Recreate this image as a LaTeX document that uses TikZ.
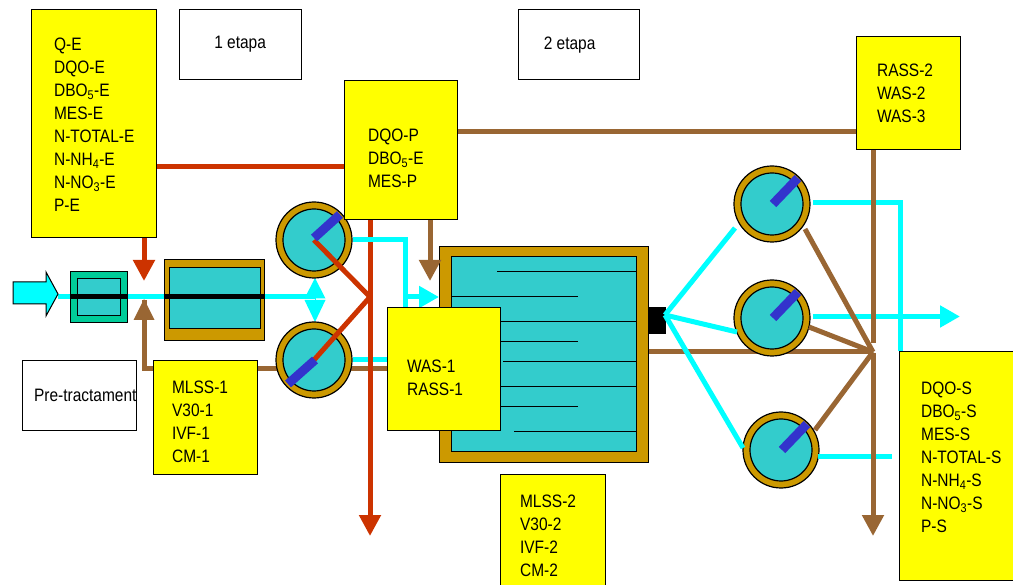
\documentclass[tikz,border=0pt]{standalone}
\usepackage{fontspec}
\setmainfont[FakeStretch=0.86]{Liberation Sans}
\usetikzlibrary{arrows.meta}
\definecolor{gold}{HTML}{CC9900}
\definecolor{teal1}{HTML}{33CCCC}
\definecolor{brn}{HTML}{996633}
\definecolor{rd}{HTML}{CC3300}
\definecolor{cy}{HTML}{00FFFF}
\definecolor{bl}{HTML}{3333CC}
\definecolor{grn}{HTML}{00CC99}
\definecolor{yel}{HTML}{FFFF00}
\tikzset{
  box/.style={draw=black,line width=1.2pt,anchor=north west,inner ysep=0pt,align=left,
    font=\fontsize{18}{23}\selectfont},
  ybox/.style={box,fill=yel},
  wbox/.style={box,fill=white,inner xsep=0pt,align=center},
  redl/.style={draw=rd,line width=5pt},
  brnl/.style={draw=brn,line width=5pt},
  cyl/.style={draw=cy,line width=5pt},
  headb/.style={-{Triangle[width=21pt,length=21pt]}},
  headc/.style={-{Triangle[width=21pt,length=20pt]}},
  outer/.style={circle,draw=black,line width=1.2pt,fill=gold,minimum size=76pt,inner sep=0pt},
  inner/.style={circle,draw=black,line width=1.2pt,fill=teal1,minimum size=62pt,inner sep=0pt},
  vane/.style={draw=bl,line width=9pt},
  wall/.style={draw=black,line width=1.2pt,fill=gold,anchor=north west,inner sep=0pt},
  basin/.style={draw=black,line width=1.2pt,fill=teal1,anchor=north west,inner sep=0pt},
  baffle/.style={draw=black,line width=1.3pt},
  core/.style={draw=black,line width=5pt},
}
\newcommand{\clarifier}[3]{%
  \node[outer] (#1) at (#2,#3) {};
  \node[inner] (#1i) at (#2,#3) {};
}
\newcommand{\down}[1]{\vspace*{#1}\par}
\begin{document}
\begin{tikzpicture}[x=1pt,y=-1pt]
\useasboundingbox (0,0) rectangle (1013,585);
% junctions
\coordinate (jr) at (370,297);
\coordinate (redtop) at (370,167);
\coordinate (redend) at (370,536);
\coordinate (tipE) at (144,281);
\coordinate (tipR) at (144,299);
\coordinate (elbowR) at (144,369);
\coordinate (tipP) at (430,281);
\coordinate (jb) at (873,352);
\coordinate (brnend) at (873,536);
\coordinate (topgap) at (873,343);
\coordinate (botgap) at (873,353);
\coordinate (jc) at (665,315);
\coordinate (elbowC) at (405,240);
\coordinate (feedA) at (408,297);
\coordinate (feedB) at (439,297);
\coordinate (inl) at (58,297);
\coordinate (dmu) at (315,278);
\coordinate (dmd) at (315,322);
\coordinate (dmua) at (315,298.5);
\coordinate (dmda) at (315,300);
% process units
\node[wall,fill=grn,minimum width=57pt,minimum height=51pt] (scr) at (69.5,271) {};
\node[basin,minimum width=43pt,minimum height=37pt] (scri) at (76.5,278) {};
\node[wall,minimum width=100pt,minimum height=81pt] (tk1) at (163.5,259) {};
\node[basin,minimum width=91pt,minimum height=61pt] (tk1i) at (168.5,267) {};
\node[wall,minimum width=209pt,minimum height=216pt] (tk2) at (438.5,246) {};
\node[basin,minimum width=185.5pt,minimum height=195pt] (tk2i) at (450.5,256) {};
\foreach \y/\a/\b in {271/497/636,296/451/578,321/451/636,341/451/578,361/503/636,386/451/636,406/451/578,431/514/636}
  \draw[baffle] (\a,\y+0.5) -- (\b,\y+0.5);
\node[fill=black,anchor=north west,minimum width=18pt,minimum height=27pt,inner sep=0pt] (out2) at (648,307) {};
% influent line
\draw[cyl] (inl) -- (315,297);
\draw[draw=black,line width=1pt,fill=cy] (13,282) -- (46,282) -- (46,272) -- (58,294) -- (46,316) -- (46,304) -- (13,304) -- cycle;
\draw[core] (scr.west |- inl) -- (scr.east |- inl);
\draw[core] (tk1.west |- inl) -- (tk1.east |- inl);
\draw[cy,fill=cy,line width=0pt,-{Triangle[width=21pt,length=20.5pt]}] (dmua) -- (dmu);
\draw[cy,fill=cy,line width=0pt,-{Triangle[width=21pt,length=22pt]}] (dmda) -- (dmd);
% brown lines under clarifiers
\draw[brnl] (153,369) -- (elbowR) -- ([yshift=-1pt]tipR);
\draw[brn,line width=0pt,fill=brn,-{Triangle[width=21pt,length=21pt]}] (144,320) -- (tipR);
\draw[brnl] (257,368.5) -- (387,368.5);
\draw[brnl] (tk2.east |- jb) -- (jb);
% clarifiers
\clarifier{c1}{314}{240}
\clarifier{c2}{314}{360}
\clarifier{ca}{772}{204}
\clarifier{cb}{772}{318}
\clarifier{cc}{781}{450}
% red lines
\draw[redl,headb] (144,237) -- (tipE);
\draw[redl] (156,167) -- (redtop) -- (jr);
\draw[cyl] (353,359.5) -- (387,359.5);
\draw[redl,headb] (jr) -- (redend);
\draw[redl] (c1.center) -- (jr);
\draw[redl] (c2.center) -- (jr);
% cyan pipes
\draw[cyl] (c1.east) -- (elbowC) -- (405,307);
\draw[cyl,headc] (feedA) -- (feedB);
\draw[cyl] (jc) -- (735,228);
\draw[cyl] (jc) -- (737,332);
\draw[cyl] (jc) -- (743,448);
\draw[cyl] (813,202.5) -- (900,202.5) -- (900,351);
\draw[cyl,headc] (813,316.5) -- (960,316.5);
\draw[cyl] (818,456.5) -- (892,456.5);
% brown return lines
\draw[brnl] (805,229) -- (jb);
\draw[brnl] (809,327) -- (jb);
\draw[brnl] (815,430) -- (jb);
\draw[brnl] (873,149) -- (topgap);
\draw[brnl,headb] (botgap) -- (brnend);
\draw[brnl] (457,132) -- (856,132);
% vanes
\draw[vane] (314,238) -- (340,214.5);
\draw[vane] (288,384) -- (315,360);
\draw[vane] (773,204) -- (798,178);
\draw[vane] (773,318) -- (798,292);
\draw[vane] (782,450) -- (807,424);
% brown feed arrow
\draw[brnl,headb] (430,219) -- (tipP);
% text boxes
\node[ybox,inner xsep=23pt,text width=79pt,minimum height=228pt] (qe) at (30.5,9)
  {\down{-8pt}Q-E\\DQO-E\\DBO\textsubscript{5}-E\\MES-E\\\mbox{N-TOTAL-E}\\N-NH\textsubscript{4}-E\\N-NO\textsubscript{3}-E\\P-E};
\node[wbox,minimum width=122pt,minimum height=70pt] (et1) at (178.5,9) {\down{0pt}1 etapa};
\node[wbox,minimum width=121pt,minimum height=70pt] (et2) at (517.5,9) {\down{0pt}\hspace*{-18pt}2 etapa};
\node[ybox,inner xsep=21pt,text width=62pt,minimum height=113pt] (ras2) at (855.5,36) {RASS-2\\WAS-2\\WAS-3};
\node[ybox,inner xsep=24pt,text width=65pt,minimum height=139pt] (dqop) at (343.5,80) {\down{6pt}DQO-P\\DBO\textsubscript{5}-E\\MES-P};
\node[wbox,minimum width=113pt,minimum height=70pt] (pre) at (21.5,360) {\hspace*{12pt}Pre-tractament};
\node[ybox,inner xsep=19pt,text width=66pt,minimum height=114pt] (mls1) at (152.5,360) {\down{-2pt}MLSS-1\\V30-1\\IVF-1\\CM-1};
\node[ybox,inner xsep=20pt,text width=73pt,minimum height=123pt] (was1) at (386.5,307) {\down{6pt}WAS-1\\RASS-1};
\node[ybox,inner xsep=20pt,text width=65pt,minimum height=122pt] (mls2) at (499.5,474) {MLSS-2\\V30-2\\IVF-2\\CM-2};
\node[ybox,inner xsep=22pt,text width=96pt,minimum height=229pt] (dqos) at (898.5,351)
  {DQO-S\\DBO\textsubscript{5}-S\\MES-S\\\mbox{N-TOTAL-S}\\N-NH\textsubscript{4}-S\\N-NO\textsubscript{3}-S\\P-S\\[-5pt]\mbox{}};
\end{tikzpicture}
\end{document}
